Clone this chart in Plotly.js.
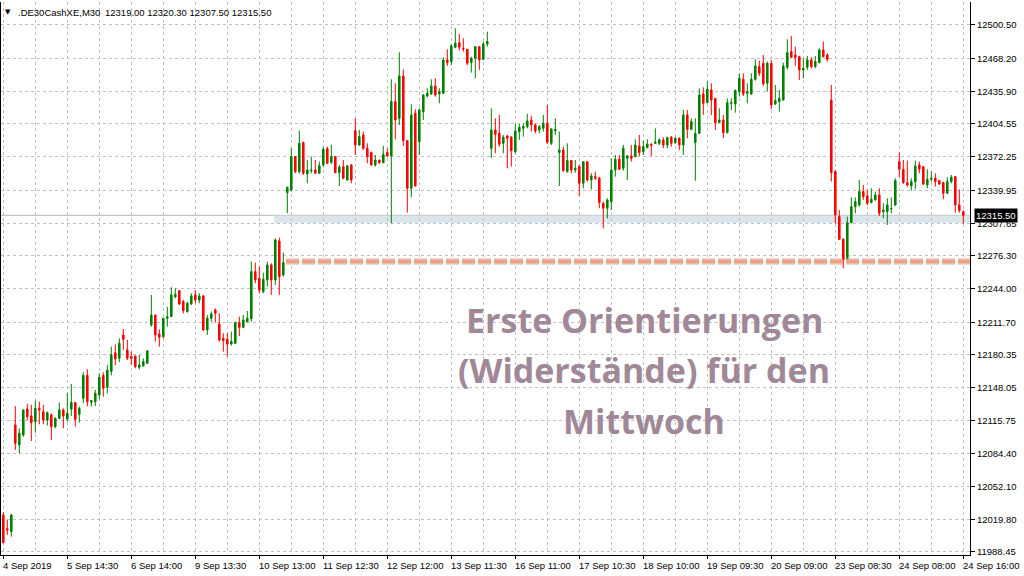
<!DOCTYPE html>
<html><head><meta charset="utf-8">
<script src="https://cdn.plot.ly/plotly-3.0.1.min.js"></script>
<style>html,body{margin:0;padding:0;background:#fff}#chart{width:1024px;height:576px}</style>
</head><body><div id="chart"></div>
<script>
// ---- data (M30 bars, DE30 cash, 4 Sep 15:00 .. 24 Sep 16:00) ----
const open = [12024.4,12011,12008.2,12111.8,12092.4,12102.1,12127.4,12120.6,12115.1,12128.0,12124.8,12116.7,12121.6,12110.2,12118.3,12126.4,12117.7,12127.4,12133.6,12122.2,
12137.7,12160,12133.9,12134.5,12141,12160,12148.4,12164,12182,12176.6,12199.3,12184.7,12178.2,12178.9,12167.9,12169.2,12171.8,12209.0,12218.7,12200.3,
12197.7,12215.5,12217.1,12236.5,12242.4,12231.7,12222.0,12229.4,12238.2,12233.3,12237.2,12204.2,12215.5,12223.6,12210.0,12196.1,12195.1,12190.5,12191.2,12211.3,
12206.7,12212.2,12215,12260.8,12254.3,12241.4,12252.7,12267.3,12252.7,12290.6,12257.6,12337.6,12340.2,12372.6,12358.0,12386.2,12355.7,12359.0,12359.6,12356.4,
12364.5,12380.3,12367.1,12372.6,12357.0,12362.8,12349.9,12364.5,12397.8,12383.9,12393.6,12380.7,12376.5,12364.5,12369.3,12366.7,12376.5,12373.2,12426.0,12409.8,
12450.9,12388.1,12341.8,12414.7,12387.1,12416.3,12431.5,12433.5,12441.2,12433.5,12434.1,12466.5,12464.9,12478.8,12483.3,12477.8,12476.9,12463.9,12468.1,12479.4,
12467.1,12482.0,12380.7,12398.5,12395.2,12385.5,12392.6,12391.4,12377.4,12396.9,12400.1,12401.7,12408.2,12403.3,12398.5,12400.1,12405.0,12385.5,12397.8,12376.5,
12379.0,12358.0,12368.7,12359.6,12362.9,12346.7,12367.7,12349.9,12353.1,12351.5,12327.2,12322.4,12328.9,12359.6,12370.0,12361.2,12370.9,12373.2,12372.6,12382.9,
12377.4,12381.3,12384.6,12385.5,12385.5,12388.8,12383.9,12391.4,12386.2,12390.4,12383.9,12413.1,12399.1,12386.2,12395.2,12433.5,12425.0,12437.3,12429.2,12405.6,
12408.2,12395.9,12424.4,12423.7,12435.7,12447.7,12434.1,12433.5,12447.7,12460.0,12463.2,12443.8,12463.2,12423.7,12426.0,12427.6,12459.4,12474.6,12471.3,12469.7,
12456.8,12459.4,12466.5,12460.0,12463.9,12476.2,12471.3,12427.6,12358.0,12314.3,12292.2,12272.8,12308.4,12324.0,12325.6,12338.6,12334.4,12327.9,12330.5,12335.3,
12319.1,12319.1,12321.9,12325.6,12367.7,12360.3,12347.3,12344.1,12348.3,12364.5,12362.8,12345.0,12350.5,12351.5,12349.2,12347.3,12337.0,12348.3,12353.1,12325.6,
12319.0];
const high = [12027,12019.6,12025.4,12130.3,12108.6,12127.1,12132.3,12131.3,12135.5,12134.5,12131.3,12124.8,12123.2,12119.3,12133.6,12128.0,12142.6,12151.7,12133.6,12129.7,
12163,12166,12136,12145.8,12162,12163,12170,12188,12190,12196,12205.1,12194.4,12183.1,12178.9,12179.9,12176.6,12184.7,12238.2,12218.7,12204.8,
12215.5,12226.8,12245.6,12244.6,12243.0,12233.3,12231.7,12239.8,12243.0,12239.8,12238.2,12218.7,12222.0,12225.2,12220.3,12200.9,12200.9,12202.5,12212.3,12217.1,
12218.7,12222.6,12270.5,12269.6,12265.7,12259.9,12270.5,12268.9,12293.2,12293.9,12279.3,12343.4,12380.7,12372.6,12397.8,12387.1,12369.3,12372.6,12369.3,12367.7,
12382.3,12382.3,12383.9,12373.2,12364.5,12369.3,12364.5,12365.4,12409.8,12398.5,12396.9,12385.5,12377.4,12374.2,12369.3,12382.9,12380.7,12447.7,12443.8,12473.9,
12457.4,12388.1,12423.4,12418.6,12419.5,12433.5,12439.0,12447.7,12448.7,12439.0,12469.1,12476.9,12482.0,12497.3,12491.8,12487.6,12476.9,12469.7,12480.1,12480.1,
12484.3,12494.0,12419.5,12409.8,12413.1,12393.6,12393.6,12392.6,12404.3,12404.3,12405.0,12414.0,12412.1,12405.0,12403.3,12413.1,12422.8,12400.1,12409.8,12396.9,
12382.3,12385.5,12369.3,12369.3,12364.5,12367.7,12367.7,12356.4,12358.0,12353.1,12328.9,12332.1,12371.0,12374.2,12374.2,12383.9,12374.2,12383.9,12389.4,12393.6,
12388.1,12389.4,12385.5,12400.1,12390.4,12391.4,12392.0,12392.6,12391.4,12391.4,12417.9,12417.9,12409.8,12409.8,12438.9,12439.9,12445.4,12443.8,12429.2,12419.5,
12413.1,12429.2,12429.2,12438.0,12453.5,12453.5,12443.8,12453.5,12467.1,12465.8,12471.3,12464.9,12466.5,12442.2,12437.3,12463.9,12486.6,12489.8,12479.4,12470.4,
12468.1,12470.4,12469.1,12470.4,12477.8,12484.3,12473.0,12442.2,12359.6,12320.7,12293.2,12314.3,12333.0,12333.0,12349.9,12345.0,12340.2,12341.8,12338.6,12341.8,
12327.2,12332.1,12333.0,12351.5,12376.5,12369.3,12368.7,12351.5,12368.7,12367.7,12363.5,12360.3,12358.0,12356.4,12349.9,12348.3,12352.5,12354.8,12353.8,12340.8,
12320.3];
const low = [11996.9,12005,12003.3,12087.6,12084.3,12100.5,12116.7,12096.3,12104.4,12112.5,12112.5,12111.2,12097.3,12108.6,12117.4,12108.6,12115.1,12120.6,12110.2,12114.1,
12132.9,12130,12129.7,12130.3,12136.8,12139.4,12142.6,12160,12170,12173,12184.7,12175.0,12170.1,12166.9,12165.9,12168.5,12171.1,12207.4,12192.8,12187.9,
12196.1,12207.4,12217.1,12234.9,12228.4,12220.3,12221.0,12228.4,12230.1,12230.1,12203.5,12199.3,12212.2,12211.3,12192.8,12183.1,12178.2,12189,12190.5,12198.3,
12205.8,12211.3,12212,12249.5,12239.8,12239.8,12246.3,12238.2,12247.9,12238.2,12256.0,12317.5,12338.6,12356.4,12356.4,12354.8,12346.7,12356.4,12355.7,12355.7,
12362.8,12365.4,12365.4,12356.4,12344.1,12350.5,12349.2,12346.7,12374.2,12382.9,12379.0,12366.1,12363.5,12362.8,12365.4,12366.1,12372.6,12307.8,12389.4,12403.3,
12382.9,12318.2,12333.1,12343.4,12374.2,12408.2,12430.2,12432.5,12430.9,12424.4,12433.5,12460.7,12461.6,12477.8,12475.6,12474.6,12461.6,12454.2,12448.7,12456.8,
12466.5,12479.4,12371.0,12375.8,12382.3,12375.8,12361.2,12362.9,12375.8,12388.8,12392.0,12400.1,12396.9,12395.2,12395.2,12396.9,12384.9,12383.9,12393.6,12344.1,
12358.0,12357.0,12356.4,12357.0,12334.4,12341.8,12348.3,12340.8,12349.9,12322.4,12302.9,12312.6,12320.7,12353.1,12359.6,12359.0,12349.9,12367.7,12371.9,12373.2,
12374.2,12380.7,12373.2,12384.9,12383.9,12380.7,12380.7,12382.3,12384.9,12379.0,12374.2,12390.4,12398.5,12349.2,12394.6,12413.1,12424.4,12413.1,12398.5,12404.9,
12390.4,12395.2,12417.9,12415.3,12430.9,12431.5,12424.4,12432.5,12446.4,12450.9,12441.2,12435.7,12418.6,12422.8,12416.3,12427.0,12457.4,12468.1,12460.7,12447.0,
12448.7,12456.8,12458.4,12458.4,12463.2,12469.1,12464.9,12348.3,12307.8,12291.6,12264.1,12272.2,12307.8,12317.5,12324.0,12330.5,12325.6,12327.2,12329.8,12314.9,
12312.7,12306.2,12317.5,12324.6,12352.5,12346.0,12343.4,12339.5,12340.8,12356.4,12345.0,12341.8,12348.3,12343.4,12345.0,12331.1,12336.3,12346.7,12318.2,12318.2,
12307.5];
const close = [11997.5,12009.8,12024.4,12094.0,12103.8,12126.4,12119.9,12114.1,12128.0,12126.4,12116.7,12123.8,12110.2,12118.3,12126.4,12120.6,12123.2,12133.6,12117.4,12128.0,
12160,12134.5,12135.5,12142.6,12158,12147.5,12165,12180,12176,12191.2,12195.1,12176.6,12176.6,12168.5,12170.1,12173.4,12183.7,12218.7,12199.3,12197.0,
12215.5,12217.1,12238.2,12238.8,12229.4,12222.9,12230.1,12237.2,12233.3,12237.2,12204.2,12215.5,12219.7,12220.3,12194.4,12193.8,12190.5,12193,12211.3,12206.7,
12213.9,12215.5,12260.8,12252.7,12243.0,12253.4,12267.3,12252.7,12291.6,12256.0,12269.6,12342.8,12372.6,12358.0,12385.5,12356.4,12359.6,12359.6,12356.4,12363.8,
12379.7,12366.1,12372.6,12357.0,12362.2,12351.5,12363.5,12349.9,12383.9,12392.0,12380.7,12372.6,12364.5,12369.3,12366.7,12374.8,12373.2,12426.0,12408.2,12450.9,
12388.1,12341.8,12413.1,12344.1,12417.9,12432.5,12434.1,12441.2,12432.5,12435.7,12466.5,12463.9,12480.1,12482.7,12478.8,12477.2,12463.3,12468.1,12479.4,12466.5,
12482.0,12484.3,12398.5,12394.3,12384.6,12391.4,12390.4,12378.4,12397.5,12401.1,12401.7,12407.2,12403.3,12397.5,12401.7,12405.0,12386.5,12399.5,12399.1,12379.0,
12358.9,12368.7,12359.6,12361.2,12346.7,12367.7,12349.9,12353.8,12351.5,12327.9,12322.4,12330.5,12359.6,12370.0,12360.3,12380.7,12373.2,12370.9,12383.9,12376.5,
12382.3,12384.9,12383.6,12386.8,12388.8,12383.9,12391.0,12385.5,12390.4,12383.9,12413.1,12399.1,12406.6,12395.2,12432.5,12424.4,12438.0,12427.6,12405.6,12408.2,
12395.9,12425.0,12425.0,12436.7,12448.7,12433.5,12435.7,12447.7,12460.7,12453.5,12443.2,12463.2,12422.8,12427.0,12429.2,12460.7,12473.6,12469.1,12469.1,12456.8,
12458.4,12466.5,12460.0,12464.9,12476.2,12469.7,12467.1,12357.0,12315.9,12292.2,12272.2,12308.4,12323.9,12328.8,12338.6,12333.7,12327.2,12331.1,12335.3,12317.5,
12320.7,12325.6,12322.1,12349.2,12360.3,12347.3,12345.0,12348.3,12363.5,12360.3,12346.0,12350.5,12351.5,12348.3,12346.0,12337.0,12348.3,12352.5,12325.6,12320.1,
12315.5];

// time-axis labels (every 16 bars) and price-axis ticks
const timeLabels = ["4 Sep 2019","5 Sep 14:30","6 Sep 14:00","9 Sep 13:30","10 Sep 13:00","11 Sep 12:30","12 Sep 12:00","13 Sep 11:30",
"16 Sep 11:00","17 Sep 10:30","18 Sep 10:00","19 Sep 09:30","20 Sep 09:00","23 Sep 08:30","24 Sep 08:00","24 Sep 16:00"];
const priceTicks = [12500.50,12468.20,12435.90,12404.55,12372.25,12339.95,12307.65,12276.30,12244.00,12211.70,12180.35,12148.05,12115.75,12084.40,12052.10,12019.80,11988.45];

const symbol = ".DE30CashXE,M30";
const overlayLines = ["Erste Orientierungen","(Widerstände) für den","Mittwoch"];
const zoneLow = 12308.4;        // light blue support zone bottom
const zoneStartBar = 68;
const supportLevel = 12270.7;   // orange dashed level
const supportStartBar = 71;

// ---- build ----
const idx = open.map((_, i) => i);
const labelStep = 16;
const last = close.length - 1;
const GRID = '#c0c0c0';
const FONT = 'Liberation Sans, Arial, sans-serif';

const trace = {
  type: 'candlestick', x: idx, open: open, high: high, low: low, close: close,
  increasing: {line: {color: '#008000', width: 1}, fillcolor: '#008000'},
  decreasing: {line: {color: '#ff0000', width: 1}, fillcolor: '#ff0000'},
  whiskerwidth: 0, hoverinfo: 'skip', showlegend: false
};

const xmin = -0.575, xmax = 241.675;
const annotations = timeLabels.map((t, k) => ({
  x: k * labelStep, xref: 'x', y: 0, yref: 'paper', yanchor: 'top', xanchor: 'left',
  xshift: -2, yshift: -3, text: t, showarrow: false, font: {family: FONT, size: 9.5, color: '#000'}
}));
annotations.push({x: 0, xref: 'paper', xanchor: 'left', xshift: 2, y: 1, yref: 'paper', yanchor: 'top', yshift: -4,
  text: '▼', showarrow: false, font: {family: 'DejaVu Sans', size: 7, color: '#000'}});
annotations.push({x: 0, xref: 'paper', xanchor: 'left', xshift: 15, y: 1, yref: 'paper', yanchor: 'top', yshift: -3,
  text: symbol, showarrow: false, font: {family: FONT, size: 9.5, color: '#000'}});
annotations.push({x: 0, xref: 'paper', xanchor: 'left', xshift: 102, y: 1, yref: 'paper', yanchor: 'top', yshift: -3,
  text: [open[last], high[last], low[last], close[last]].map(v => v.toFixed(2)).join(' '),
  showarrow: false, font: {family: FONT, size: 9.5, color: '#000'}});
annotations.push({x: 1, xref: 'paper', xanchor: 'left', xshift: 4, y: close[last], yref: 'y', yanchor: 'middle',
  text: close[last].toFixed(2), showarrow: false, bgcolor: '#000', borderpad: 1,
  font: {family: FONT, size: 9.5, color: '#fff'}});
const ty = [0.425, 0.334, 0.243];
overlayLines.forEach((t, k) => annotations.push({
  x: 0.664, xref: 'paper', xanchor: 'center', y: ty[k], yref: 'paper', yanchor: 'middle',
  text: '<b>' + t + '</b>', showarrow: false, font: {family: 'Open Sans, sans-serif', size: 34, color: '#a08898'}
}));

const shapes = [
  {type: 'rect', xref: 'x', yref: 'y', x0: zoneStartBar - 0.3, x1: xmax, y0: zoneLow, y1: close[last],
   fillcolor: 'rgba(205,220,232,0.75)', line: {width: 0}, layer: 'below'},
  {type: 'line', xref: 'paper', yref: 'y', x0: 0, x1: 1, y0: close[last], y1: close[last],
   line: {color: '#b8b8b8', width: 1}, layer: 'below'},
  {type: 'line', xref: 'x', yref: 'y', x0: supportStartBar - 0.3, x1: xmax, y0: supportLevel, y1: supportLevel,
   line: {color: 'rgba(190,170,165,0.45)', width: 7, dash: '13px,3px'}},
  {type: 'line', xref: 'x', yref: 'y', x0: supportStartBar - 0.3, x1: xmax, y0: supportLevel, y1: supportLevel,
   line: {color: 'rgba(242,158,122,0.95)', width: 4, dash: '13px,3px'}}
];

const layout = {
  width: 1024, height: 576,
  margin: {l: 1, r: 54, t: 2, b: 21, pad: 0},
  paper_bgcolor: '#fff', plot_bgcolor: '#fff',
  boxgap: 0.45,
  showlegend: false,
  xaxis: {
    type: 'linear', range: [xmin, xmax], fixedrange: true,
    rangeslider: {visible: false},
    tickmode: 'array', tickvals: timeLabels.map((_, k) => k * labelStep),
    showticklabels: false, ticks: 'outside', ticklen: 3, tickcolor: '#000',
    showgrid: true, gridcolor: GRID, griddash: '3px,3px', gridwidth: 1,
    minor: {tickmode: 'array', tickvals: timeLabels.map((_, k) => k * labelStep + labelStep / 2),
            showgrid: true, gridcolor: GRID, griddash: '3px,3px', ticks: ''},
    showline: true, linecolor: '#000', linewidth: 1, mirror: false, zeroline: false
  },
  yaxis: {
    side: 'right', range: [11985.5, 12522.8], fixedrange: true,
    tickmode: 'array', tickvals: priceTicks, ticktext: priceTicks.map(v => v.toFixed(2)),
    ticks: 'outside', ticklen: 4, tickcolor: '#000',
    tickfont: {family: FONT, size: 9.5, color: '#000'},
    showgrid: true, gridcolor: GRID, griddash: '3px,3px',
    showline: true, linecolor: '#000', linewidth: 1, mirror: true, zeroline: false
  },
  annotations: annotations,
  shapes: shapes
};

Plotly.newPlot('chart', [trace], layout, {staticPlot: true, displayModeBar: false});
</script></body></html>
